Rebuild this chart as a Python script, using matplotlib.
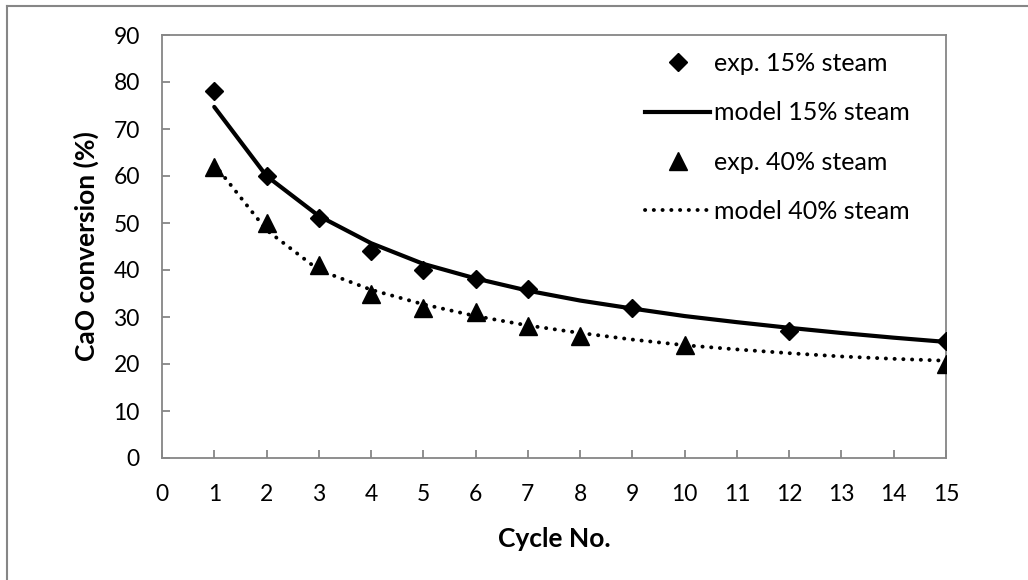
import matplotlib
matplotlib.use("Agg")
import matplotlib.pyplot as plt
from matplotlib.lines import Line2D

plt.rcParams["font.family"] = ["Lato", "DejaVu Sans"]

# experimental points
exp15_cycle = [1, 2, 3, 4, 5, 6, 7, 9, 12, 15]
exp15_conv = [78, 60, 51, 44, 40, 38, 36, 32, 27, 25]
exp40_cycle = [1, 2, 3, 4, 5, 6, 7, 8, 10, 15]
exp40_conv = [62, 50, 41, 35, 32, 31, 28, 26, 24, 20]

# model curves
model_cycle = [1, 2, 3, 4, 5, 6, 7, 8, 9, 10, 11, 12, 13, 14, 15]
model15_conv = [74.7, 60.0, 51.5, 45.7, 41.3, 38.2, 35.6, 33.5, 31.8, 30.2, 28.9, 27.7, 26.6, 25.6, 24.7]
model40_conv = [62.5, 48.5, 40.0, 35.8, 32.7, 30.2, 28.2, 26.6, 25.2, 24.0, 23.1, 22.3, 21.6, 21.1, 20.7]

gray = "#868686"

fig = plt.figure(figsize=(10.28, 5.8), dpi=100)
ax = fig.add_axes([162 / 1028, 1 - 458 / 580, (946 - 162) / 1028, (458 - 35) / 580])

ax.plot(model_cycle, model15_conv, color="black", linewidth=3.0,
        solid_capstyle="round", label="model 15% steam", zorder=2)
ax.plot(model_cycle, model40_conv, color="black", linewidth=2.8,
        linestyle=(0, (0.05, 2.2)), dash_capstyle="round",
        label="model 40% steam", zorder=2)
ax.plot(exp15_cycle, exp15_conv, linestyle="none", marker="D", markersize=9,
        color="black", label="exp. 15% steam", zorder=3)
ax.plot(exp40_cycle, exp40_conv, linestyle="none", marker="^", markersize=13,
        color="black", label="exp. 40% steam", zorder=3)

ax.set_xlim(0, 15)
ax.set_ylim(0, 90)
ax.set_xticks(range(0, 16))
ax.set_yticks(range(0, 91, 10))

for s in ax.spines.values():
    s.set_color(gray)
    s.set_linewidth(1.3)
ax.tick_params(axis="both", direction="in", length=6, width=1.3, color=gray,
               labelsize=16.5, labelcolor="black")
ax.tick_params(axis="x", pad=18.5)
ax.tick_params(axis="y", pad=16)

ax.set_xlabel("Cycle No.", fontsize=19, fontweight="bold", labelpad=16)
ax.set_ylabel("CaO conversion (%)", fontsize=19, fontweight="bold", labelpad=10)

handles = [
    Line2D([], [], linestyle="none", marker="D", markersize=9, color="black"),
    Line2D([], [], color="black", linewidth=3.0),
    Line2D([], [], linestyle="none", marker="^", markersize=13, color="black"),
    Line2D([], [], color="black", linewidth=2.8, linestyle=(0, (0.05, 2.2)),
           dash_capstyle="round"),
]
labels = ["exp. 15% steam", "model 15% steam", "exp. 40% steam", "model 40% steam"]
fig.legend(handles, labels, loc="upper left",
           bbox_to_anchor=(645 / 1028, 1 - 52 / 580),
           frameon=False, fontsize=18, handlelength=2.6, handletextpad=0.15,
           labelspacing=1.05, borderpad=0, borderaxespad=0)

# outer chart border (only top and left edges visible)
fig.add_artist(Line2D([6.5 / 1028, 6.5 / 1028], [0, 1 - 5.5 / 580],
                      transform=fig.transFigure, color=gray, linewidth=1.5))
fig.add_artist(Line2D([6.5 / 1028, 1], [1 - 5.5 / 580, 1 - 5.5 / 580],
                      transform=fig.transFigure, color=gray, linewidth=1.5))

fig.savefig("out.png", dpi=100)
